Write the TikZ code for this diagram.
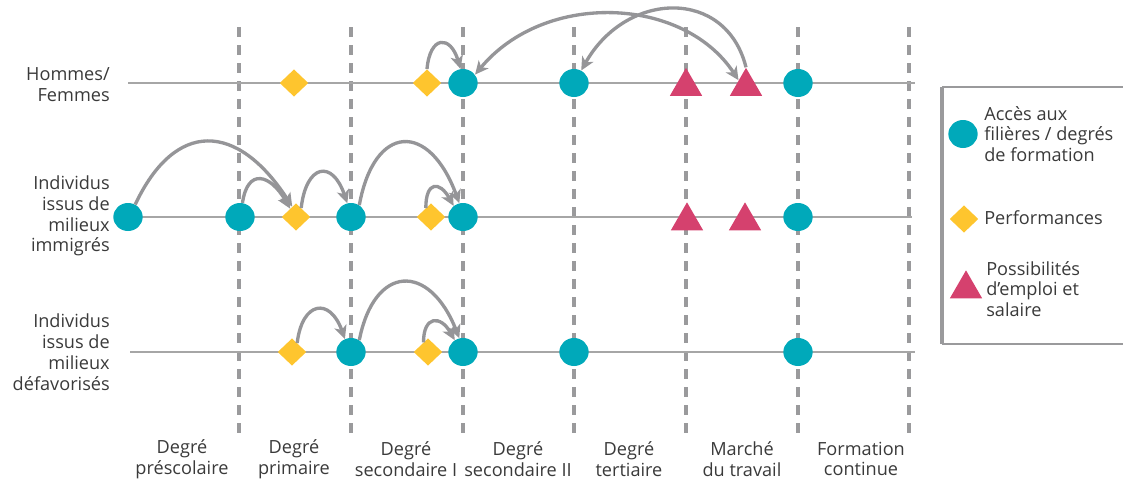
\documentclass[tikz,border=0pt]{standalone}
\usepackage{fontspec}
\setmainfont{Open Sans}
\usetikzlibrary{shapes.geometric,arrows.meta}
\definecolor{cteal}{HTML}{00A9BA}
\definecolor{cyel}{HTML}{FEC52E}
\definecolor{cpink}{HTML}{D5416E}
\definecolor{cdash}{HTML}{9A9A9C}
\definecolor{cline}{HTML}{A6A6A6}
\definecolor{carrow}{HTML}{959598}
\definecolor{ctext}{HTML}{3A3A3A}
\begin{document}
\begin{tikzpicture}[x=0.75pt,y=0.75pt,
  >={Stealth[length=10pt,width=9.5pt,inset=2.8pt]},
  circ/.style={ellipse,fill=cteal,inner sep=0pt,minimum width=22pt,minimum height=21pt},
  diam/.style={diamond,fill=cyel,inner sep=0pt,minimum width=21.5pt,minimum height=20.5pt},
  tri/.style={regular polygon,regular polygon sides=3,fill=cpink,inner sep=0pt,minimum size=28pt},
  vline/.style={draw=cdash,line width=3.4pt,dash pattern=on 7.5pt off 6pt},
  hline/.style={draw=cline,line width=1.5pt},
  arr/.style={draw=carrow,line width=2.5pt,->},
  arrb/.style={draw=carrow,line width=2.5pt,<->},
  lab/.style={font=\fontsize{13.6}{15.6}\selectfont,text=ctext,inner sep=0pt},
  rowlab/.style={lab,align=right,anchor=east},
  collab/.style={lab,align=center},
  leglab/.style={lab,align=left,anchor=west},
  legbox/.style={draw=cdash,line width=1.5pt},
  legleft/.style={draw=cdash,line width=2.4pt}
]
\useasboundingbox (0,0) rectangle (1125,-482);

% vertical dashed separators
\foreach \i/\x in {1/239,2/351,3/463,4/574,5/686,6/798,7/909}{
  \coordinate (vt\i) at (\x,-27);
  \coordinate (vb\i) at (\x,-436);
  \draw[vline] (vt\i) -- (vb\i);
}

% horizontal row lines
\coordinate (h1a) at (128,-83);  \coordinate (h1b) at (915,-83);
\coordinate (h2a) at (128,-217); \coordinate (h2b) at (912,-217);
\coordinate (h3a) at (130,-352); \coordinate (h3b) at (915,-352);
\draw[hline] (h1a) -- (h1b);
\draw[hline] (h2a) -- (h2b);
\draw[hline] (h3a) -- (h3b);

% row labels
\node[rowlab] (r1) at (110,-85) {Hommes/\\Femmes};
\node[rowlab] (r2) at (110,-216) {Individus\\issus de\\milieux\\immigrés};
\node[rowlab] (r3) at (110,-352) {Individus\\issus de\\milieux\\défavorisés};

% row 1
\node[diam] (d11) at (294,-83) {};
\node[diam] (d12) at (427,-83) {};
\node[circ] (c11) at (463,-83) {};
\node[circ] (c12) at (574,-83) {};
\node[tri]  (t11) at (686,-86.5) {};
\node[tri]  (t12) at (746,-86.5) {};
\node[circ] (c13) at (798,-83) {};

% row 2
\node[circ] (c21) at (128,-217) {};
\node[circ] (c22) at (240,-217) {};
\node[diam] (d21) at (296,-217) {};
\node[circ] (c23) at (351,-217) {};
\node[diam] (d22) at (431,-217) {};
\node[circ] (c24) at (463,-217) {};
\node[tri]  (t21) at (687,-221) {};
\node[tri]  (t22) at (745,-221) {};
\node[circ] (c25) at (798,-217) {};

% row 3
\node[diam] (d31) at (292,-352) {};
\node[circ] (c31) at (351,-352) {};
\node[diam] (d32) at (428,-352) {};
\node[circ] (c32) at (463,-352) {};
\node[circ] (c33) at (574,-352) {};
\node[circ] (c34) at (798,-352) {};

% arrows row 1
\draw[arr] (d12.north) .. controls +(3,34) and +(-10,34) .. (c11.100);
\draw[arrb] (c11.35) .. controls +(70,84) and +(-55,84) .. (t12.140);
\draw[arr] (t12.north) .. controls +(-20,80) and +(45,80) .. (c12.60);

% arrows row 2
\draw[arr] (c21.60) .. controls +(40,85) and +(-55,85) .. (d21.110);
\draw[arr] (c22.80) .. controls +(5,35) and +(-20,35) .. (d21.125);
\draw[arr] (d21.60) .. controls +(5,44) and +(-15,44) .. (c23.105);
\draw[arr] (c23.55) .. controls +(15,82) and +(-30,82) .. (c24.105);
\draw[arr] (d22.120) .. controls +(0,27) and +(-14,25) .. (c24.130);

% arrows row 3
\draw[arr] (d31.60) .. controls +(5,42) and +(-15,42) .. (c31.115);
\draw[arr] (c31.55) .. controls +(15,76) and +(-30,76) .. (c32.105);
\draw[arr] (d32.115) .. controls +(0,27) and +(-14,25) .. (c32.125);

% column labels
\node[collab] (l1) at (182,-459) {Degré\\préscolaire};
\node[collab] (l2) at (294,-459) {Degré\\primaire};
\node[collab] (l3) at (406,-459) {Degré\\secondaire I};
\node[collab] (l4) at (518,-459) {Degré\\secondaire II};
\node[collab] (l5) at (629,-459) {Degré\\tertiaire};
\node[collab] (l6) at (742,-459) {Marché\\du travail};
\node[collab] (l7) at (861,-459) {Formation\\continue};

% legend box
\coordinate (bx1) at (1123,-87);
\coordinate (bx2) at (942,-87);
\coordinate (bx3) at (942,-344);
\coordinate (bx4) at (1123,-344);
\draw[legbox] (bx2) -- (bx1);
\draw[legbox] (bx3) -- (bx4);
\draw[legleft] (bx2) -- (bx3);

\node[circ] (lc) at (963,-134) {};
\node[leglab] (lct) at (984,-134) {Accès aux\\filières / degrés\\de formation};
\node[diam] (ld) at (964,-219) {};
\node[leglab] (ldt) at (984,-218) {Performances};
\node[tri] (lt) at (966,-289) {};
\node[leglab] (ltt) at (986,-289) {Possibilités\\d’emploi et\\salaire};
\end{tikzpicture}
\end{document}
